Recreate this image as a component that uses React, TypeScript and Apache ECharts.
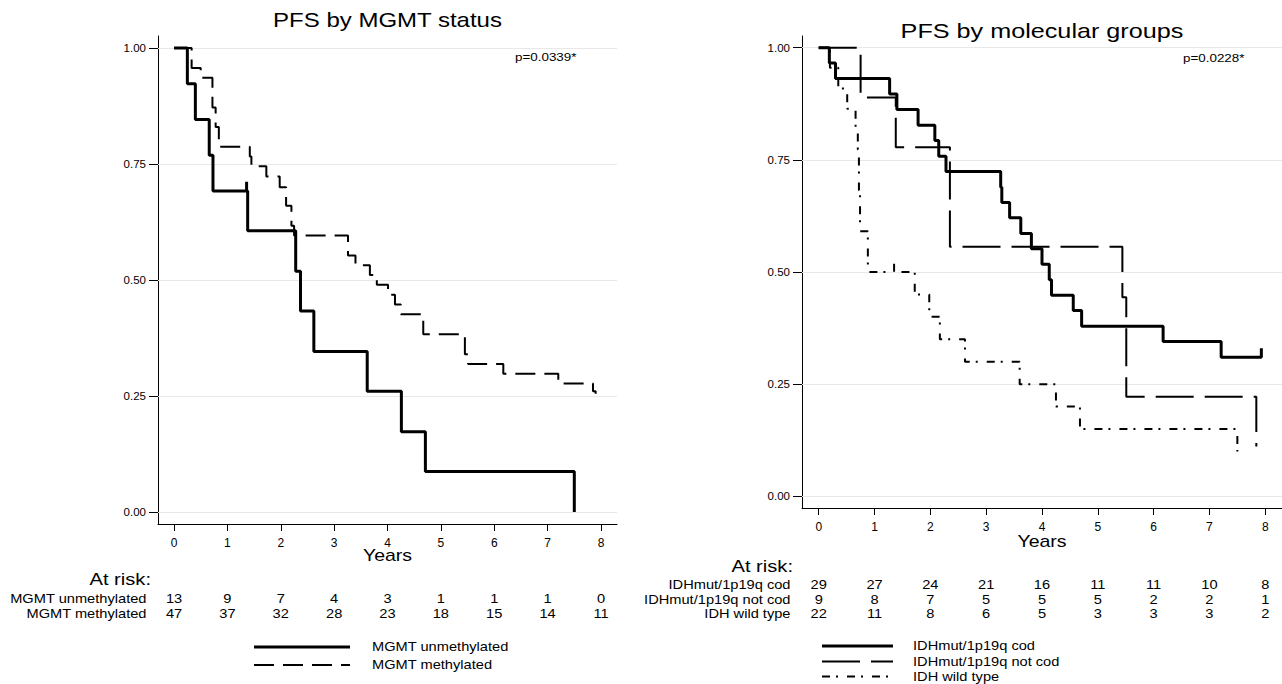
import React, { useEffect, useRef } from "react";
import * as echarts from "echarts";

const FONT = "'Liberation Sans', Arial, Helvetica, sans-serif";

const yearTicks = [0, 1, 2, 3, 4, 5, 6, 7, 8];
const probTicks = [0, 0.25, 0.5, 0.75, 1];

// Left panel: PFS by MGMT status  [years, survival]
const mgmtUnmethylated = [
  [0, 1], [0.25, 0.923], [0.4, 0.846], [0.66, 0.769], [0.73, 0.692],
  [1.36, 0.692], [1.36, 0.712], [1.36, 0.692],
  [1.38, 0.606], [2.28, 0.519], [2.37, 0.433], [2.62, 0.346], [3.62, 0.26],
  [4.26, 0.173], [4.71, 0.087], [7.5, 0],
];
const mgmtMethylated = [
  [0, 1], [0.33, 0.957], [0.5, 0.936], [0.72, 0.872], [0.78, 0.83], [0.84, 0.787],
  [1.42, 0.766], [1.45, 0.745], [1.73, 0.723], [1.98, 0.7], [2.1, 0.66], [2.2, 0.617],
  [2.25, 0.596], [3.26, 0.553], [3.4, 0.532], [3.67, 0.511], [3.8, 0.49], [4.01, 0.468],
  [4.14, 0.447], [4.25, 0.426], [4.67, 0.383], [5.45, 0.34], [5.51, 0.319], [6.17, 0.298],
  [7.2, 0.277], [7.85, 0.26], [7.9, 0.255],
];

// Right panel: PFS by molecular groups
const idhCod = [
  [0, 1], [0.19, 0.966], [0.3, 0.931], [1.27, 0.897], [1.4, 0.862], [1.78, 0.827],
  [2.08, 0.793], [2.15, 0.758], [2.28, 0.724], [3.26, 0.689], [3.28, 0.655], [3.42, 0.621],
  [3.62, 0.586], [3.81, 0.552], [4.0, 0.517], [4.13, 0.483], [4.17, 0.448], [4.56, 0.414],
  [4.71, 0.379], [6.17, 0.345], [7.21, 0.31], [7.93, 0.31], [7.93, 0.33],
];
const idhNotCod = [
  [0, 1], [0.75, 0.889], [1.38, 0.778], [2.35, 0.556], [5.44, 0.444], [5.51, 0.222],
  [7.84, 0.111],
];
const idhWild = [
  [0, 1], [0.2, 0.955], [0.35, 0.909], [0.51, 0.864], [0.66, 0.818], [0.7, 0.773],
  [0.72, 0.682], [0.74, 0.591], [0.88, 0.5], [1.35, 0.5], [1.35, 0.52], [1.35, 0.5],
  [1.72, 0.45], [1.98, 0.4], [2.17, 0.35], [2.62, 0.3], [3.6, 0.25], [4.25, 0.2],
  [4.68, 0.15], [7.5, 0.1],
];

// At-risk tables
const leftRiskLabels = ["MGMT unmethylated", "MGMT methylated"];
const riskUnmethylated = [13, 9, 7, 4, 3, 1, 1, 1, 0];
const riskMethylated = [47, 37, 32, 28, 23, 18, 15, 14, 11];
const rightRiskLabels = ["IDHmut/1p19q cod", "IDHmut/1p19q not cod", "IDH wild type"];
const riskCod = [29, 27, 24, 21, 16, 11, 11, 10, 8];
const riskNotCod = [9, 8, 7, 5, 5, 5, 2, 2, 1];
const riskWild = [22, 11, 8, 6, 5, 3, 3, 3, 2];

const titles = ["PFS by MGMT status", "PFS by molecular groups"];
const pValues = ["p=0.0339*", "p=0.0228*"];

const DASH_MGMT = [20, 9];
const DASH_LONG = [38, 11];
const DASH_DOT = [8, 6, 2, 9];

export default function App() {
  const ref = useRef<HTMLDivElement>(null);

  useEffect(() => {
    const chart = echarts.init(ref.current as HTMLDivElement, null, { renderer: "svg" });

    const xAxis = (gridIndex: number) => ({
      type: "value",
      gridIndex,
      min: -0.3,
      max: 8.3,
      axisLine: { show: true, onZero: false, lineStyle: { color: "#000", width: 1 } },
      axisTick: { show: true, customValues: yearTicks, length: 7, lineStyle: { color: "#000" } },
      axisLabel: {
        customValues: yearTicks,
        margin: 13,
        fontSize: 12,
        color: "#000",
        fontFamily: FONT,
      },
      splitLine: { show: false },
    });
    const yAxis = (gridIndex: number) => ({
      type: "value",
      gridIndex,
      min: -0.026,
      max: 1.026,
      axisLine: { show: true, onZero: false, lineStyle: { color: "#000", width: 1 } },
      axisTick: { show: true, customValues: probTicks, length: 9, lineStyle: { color: "#000" } },
      axisLabel: {
        customValues: probTicks,
        margin: 12,
        fontSize: 11.5,
        color: "#000",
        fontFamily: FONT,
        formatter: (v: number) => v.toFixed(2),
      },
      splitLine: { show: false },
    });
    const gridLines = {
      silent: true,
      symbol: ["none", "none"],
      z: 1,
      label: { show: false },
      emphasis: { disabled: true },
      lineStyle: { color: "#e8e8e8", width: 1, type: "solid" },
      data: probTicks.map((v) => ({ yAxis: v })),
    };
    const curve = (name: string, data: number[][], gi: number, width: number, dash: any, withGrid: boolean) => ({
      type: "line",
      name,
      xAxisIndex: gi,
      yAxisIndex: gi,
      data,
      step: "end",
      symbol: "none",
      showSymbol: false,
      silent: true,
      z: 3,
      lineStyle: { color: "#000", width, type: dash },
      ...(withGrid ? { markLine: gridLines } : {}),
    });

    chart.setOption({
      animation: false,
      backgroundColor: "#fff",
      grid: [
        { left: 158, top: 36, width: 459, height: 488 },
        { left: 802, top: 36, width: 480, height: 472 },
      ],
      xAxis: [xAxis(0), xAxis(1)],
      yAxis: [yAxis(0), yAxis(1)],
      series: [
        curve("MGMT unmethylated", mgmtUnmethylated, 0, 3, "solid", true),
        curve("MGMT methylated", mgmtMethylated, 0, 2, DASH_MGMT, false),
        curve("IDHmut/1p19q cod", idhCod, 1, 3, "solid", true),
        curve("IDHmut/1p19q not cod", idhNotCod, 1, 2, DASH_LONG, false),
        curve("IDH wild type", idhWild, 1, 2, DASH_DOT, false),
      ],
    });

    const px = (gi: number, t: number) => chart.convertToPixel({ xAxisIndex: gi }, t) as number;
    const txt = (text: string | number, x: number, y: number, size: number, align: string, sx = 1.22) => ({
      type: "text",
      x,
      y,
      scaleX: sx,
      silent: true,
      style: {
        text: String(text),
        x: 0,
        y: 0,
        fontSize: size,
        fontFamily: FONT,
        fill: "#000",
        align,
        verticalAlign: "middle",
      },
    });
    const legLine = (x1: number, x2: number, y: number, width: number, dash?: number[]) => ({
      type: "line",
      silent: true,
      shape: { x1, y1: y, x2, y2: y },
      style: { stroke: "#000", lineWidth: width, lineDash: dash || null },
    });

    const g: any[] = [];
    // titles
    g.push(txt(titles[0], px(0, 4), 20, 20, "center", 1.2));
    g.push(txt(titles[1], px(1, 4), 31, 20, "center", 1.26));
    // p-values
    g.push(txt(pValues[0], 515, 57, 11, "left"));
    g.push(txt(pValues[1], 1183, 58, 11, "left"));
    // Years
    g.push(txt("Years", px(0, 4), 556, 16, "center"));
    g.push(txt("Years", px(1, 4), 542, 16, "center"));

    // Left at-risk table
    g.push(txt("At risk:", 151, 579, 16.5, "right"));
    const leftRows = [riskUnmethylated, riskMethylated];
    const leftY = [599, 614];
    leftRows.forEach((row, r) => {
      g.push(txt(leftRiskLabels[r], 146.5, leftY[r], 12, "right"));
      row.forEach((n, i) => g.push(txt(n, px(0, yearTicks[i]), leftY[r], 12, "center")));
    });

    // Right at-risk table
    g.push(txt("At risk:", 793, 566, 16.5, "right"));
    const rightRows = [riskCod, riskNotCod, riskWild];
    const rightY = [585, 599.5, 614];
    rightRows.forEach((row, r) => {
      g.push(txt(rightRiskLabels[r], 790.5, rightY[r], 12, "right"));
      row.forEach((n, i) => g.push(txt(n, px(1, yearTicks[i]), rightY[r], 12, "center")));
    });

    // Left legend
    g.push(legLine(254, 350, 647, 3));
    g.push(txt(leftRiskLabels[0], 372, 647, 12, "left"));
    g.push(legLine(254, 350, 665, 2, DASH_MGMT));
    g.push(txt(leftRiskLabels[1], 372, 665, 12, "left"));

    // Right legend
    g.push(legLine(822, 893, 646, 3));
    g.push(txt(rightRiskLabels[0], 913, 646, 12, "left"));
    g.push(legLine(822, 893, 661.5, 2, DASH_LONG));
    g.push(txt(rightRiskLabels[1], 913, 661.5, 12, "left"));
    g.push(legLine(822, 893, 676.5, 2, DASH_DOT));
    g.push(txt(rightRiskLabels[2], 913, 676.5, 12, "left"));

    chart.setOption({ graphic: g });

    return () => chart.dispose();
  }, []);

  return (
    <div
      ref={ref}
      style={{ position: "absolute", left: 0, top: 0, width: 1282, height: 684 }}
    />
  );
}
